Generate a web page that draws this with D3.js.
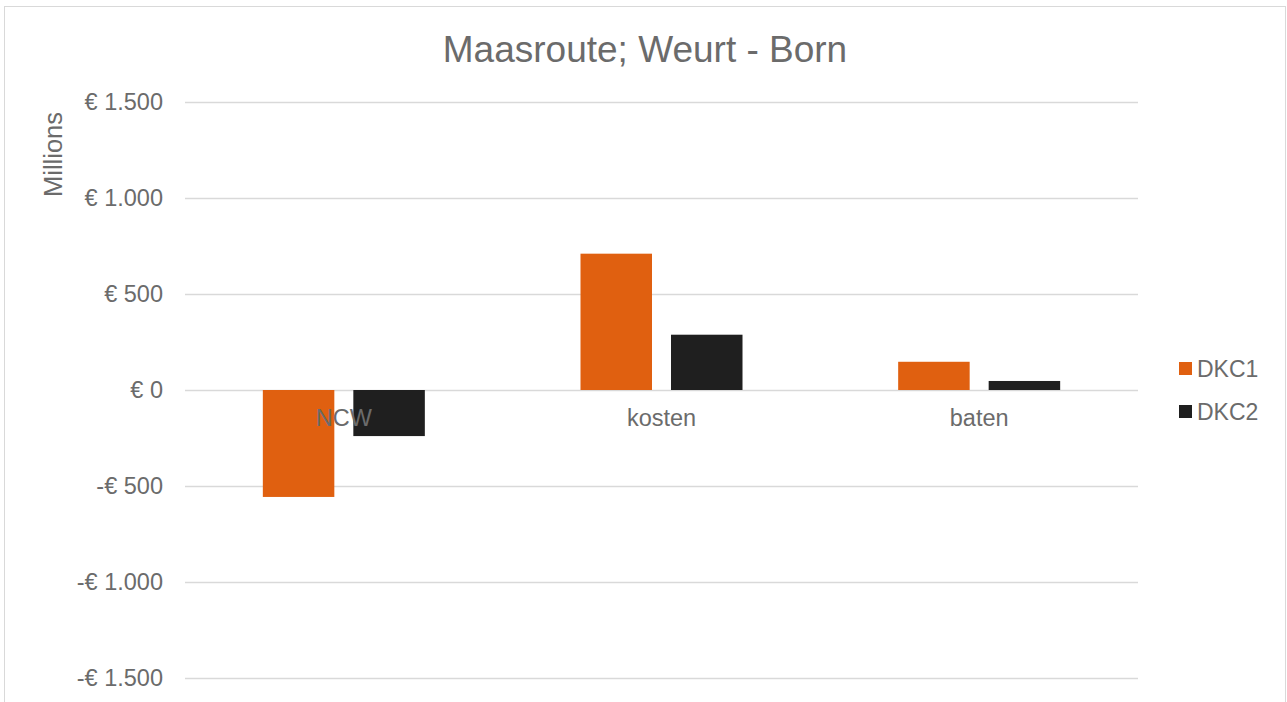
<!DOCTYPE html>
<html>
<head>
<meta charset="utf-8">
<script src="https://cdn.jsdelivr.net/npm/d3@7"></script>
<style>
  body { margin: 0; background: #fff; }
  svg { font-family: "Liberation Sans", Arial, sans-serif; }
</style>
</head>
<body>
<svg id="chart" width="1287" height="702"></svg>
<script>
// data (in millions of euro)
const categories = ["NCW", "kosten", "baten"];
const seriesNames = ["DKC1", "DKC2"];
const dkc1 = [-557, 710, 147];
const dkc2 = [-240, 288, 47];
const yTicks = [-1500, -1000, -500, 0, 500, 1000, 1500];
const colors = ["#e06010", "#1f1f1f"];

const margin = { top: 102, right: 149, bottom: 24, left: 185 };
const width = 1287 - margin.left - margin.right;
const textColor = "#6b6b6b";

const svg = d3.select("#chart");

// chart frame
svg.append("rect")
    .attr("x", 4.5).attr("y", 6.5)
    .attr("width", 1281).attr("height", 710)
    .attr("fill", "#fff")
    .attr("stroke", "#d9d9d9");

const g = svg.append("g")
    .attr("transform", `translate(${margin.left}, ${margin.top})`);

const x = d3.scaleBand().domain(categories).range([0, width]);
const y = d3.scaleLinear().domain([-1500, 1500]).range([576, 0]);

const fmt = v => (v < 0 ? "-" : "") + "€ " + d3.format(",")(Math.abs(v)).replace(/,/g, ".");

// gridlines + y labels
const yAxis = d3.axisLeft(y).tickValues(yTicks).tickSize(-width).tickFormat(fmt).tickPadding(22);
g.append("g").call(yAxis)
    .call(a => a.select(".domain").remove())
    .call(a => a.selectAll("line").attr("stroke", "#d9d9d9").attr("stroke-width", 1.3))
    .call(a => a.selectAll("text").attr("fill", textColor).attr("font-size", "23.5px")
        .attr("font-family", "Liberation Sans, Arial, sans-serif"));

// bars
const inner = d3.scaleBand().domain(seriesNames).range([0, 162]).paddingInner(0.21);
const rows = categories.map((c, i) => ({ cat: c, vals: [dkc1[i], dkc2[i]] }));

const groups = g.selectAll("g.cat")
    .data(rows)
    .join("g")
    .attr("class", "cat")
    .attr("transform", d => `translate(${x(d.cat) + x.bandwidth() / 2 - 81}, 0)`);

groups.selectAll("rect")
    .data(d => d.vals.map((v, j) => ({ name: seriesNames[j], v, j })))
    .join("rect")
    .attr("x", d => inner(d.name))
    .attr("width", inner.bandwidth())
    .attr("y", d => y(Math.max(0, d.v)))
    .attr("height", d => Math.abs(y(d.v) - y(0)))
    .attr("fill", d => colors[d.j]);

// category labels sit just under the zero line
g.selectAll("text.cat")
    .data(categories)
    .join("text")
    .attr("class", "cat")
    .attr("x", d => x(d) + x.bandwidth() / 2)
    .attr("y", y(0) + 36)
    .attr("text-anchor", "middle")
    .attr("font-size", "23.5px")
    .attr("fill", textColor)
    .text(d => d);

// title
svg.append("text")
    .attr("x", 645)
    .attr("y", 62)
    .attr("text-anchor", "middle")
    .attr("font-size", "37px")
    .attr("fill", textColor)
    .text("Maasroute; Weurt - Born");

// y axis title
svg.append("text")
    .attr("transform", "translate(62, 154.5) rotate(-90)")
    .attr("text-anchor", "middle")
    .attr("font-size", "25.5px")
    .attr("fill", textColor)
    .text("Millions");

// legend
const legend = svg.append("g").attr("transform", "translate(1179, 362)");
legend.selectAll("g")
    .data(seriesNames)
    .join("g")
    .attr("transform", (d, i) => `translate(0, ${i * 43})`)
    .each(function (d, i) {
        const item = d3.select(this);
        item.append("rect").attr("width", 13).attr("height", 13).attr("fill", colors[i]);
        item.append("text").attr("x", 18).attr("y", 15)
            .attr("font-size", "23px").attr("fill", textColor).text(d);
    });
</script>
</body>
</html>
